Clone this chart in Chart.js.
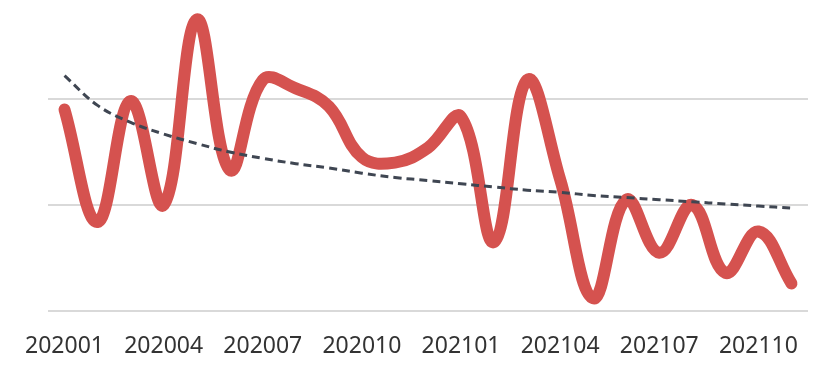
<!DOCTYPE html>
<html>
<head>
<meta charset="utf-8">
<script src="https://cdn.jsdelivr.net/npm/chart.js@4"></script>
<style>
  html, body { margin: 0; padding: 0; background: #fff; }
  #wrap { width: 826px; height: 378px; }
</style>
</head>
<body>
<div id="wrap"><canvas id="lineChart"></canvas></div>
<script>
const months = [
  "202001", "202002", "202003", "202004", "202005", "202006", "202007", "202008",
  "202009", "202010", "202011", "202012", "202101", "202102", "202103", "202104",
  "202105", "202106", "202107", "202108", "202109", "202110", "202111",
];

const values = [
  1.90, 0.84, 1.98, 1.00, 2.75, 1.33, 2.18, 2.10, 1.93, 1.45, 1.40, 1.54,
  1.83, 0.65, 2.18, 1.24, 0.12, 1.05, 0.55, 1.00, 0.36, 0.75, 0.26,
];

const trend = [
  2.22, 1.94, 1.78, 1.67, 1.58, 1.50, 1.44, 1.39, 1.35, 1.30, 1.26, 1.23,
  1.20, 1.17, 1.14, 1.12, 1.09, 1.07, 1.05, 1.03, 1.01, 0.99, 0.97,
];

const gridValues = [0, 1, 2];

const canvas = document.querySelector("canvas#lineChart");

const chart1 = new Chart(canvas, {
  type: "line",
  data: {
    labels: months,
    datasets: [
      {
        label: "trend",
        data: trend,
        borderColor: "#3f4652",
        borderWidth: 3,
        borderDash: [8, 5],
        pointRadius: 0,
        tension: 0.4,
        fill: false,
      },
      {
        label: "value",
        data: values,
        borderColor: "#d5524f",
        borderWidth: 12,
        borderCapStyle: "round",
        borderJoinStyle: "round",
        pointRadius: 0,
        tension: 0.4,
        fill: false,
      },
    ],
  },
  options: {
    responsive: true,
    maintainAspectRatio: false,
    animation: false,
    layout: { padding: { left: 48, right: 18, top: 0, bottom: 0 } },
    plugins: {
      legend: { display: false },
      tooltip: { enabled: false },
    },
    scales: {
      x: {
        offset: true,
        grid: { display: false, drawTicks: false },
        border: { display: false },
        afterFit: (axis) => {
          axis.height = 67;
        },
        ticks: {
          autoSkip: false,
          maxRotation: 0,
          padding: 22,
          color: "#333",
          font: { family: "'Noto Sans'", size: 23 },
          callback: (val, i) => (i % 3 === 0 ? months[i] : ""),
        },
      },
      y: {
        min: 0,
        max: 2.934,
        afterBuildTicks: (axis) => {
          axis.ticks = gridValues.map((v) => ({ value: v }));
        },
        ticks: { display: false },
        border: { display: false },
        grid: { color: "#d9d9d9", lineWidth: 2, drawTicks: false },
      },
    },
  },
});
</script>
</body>
</html>
